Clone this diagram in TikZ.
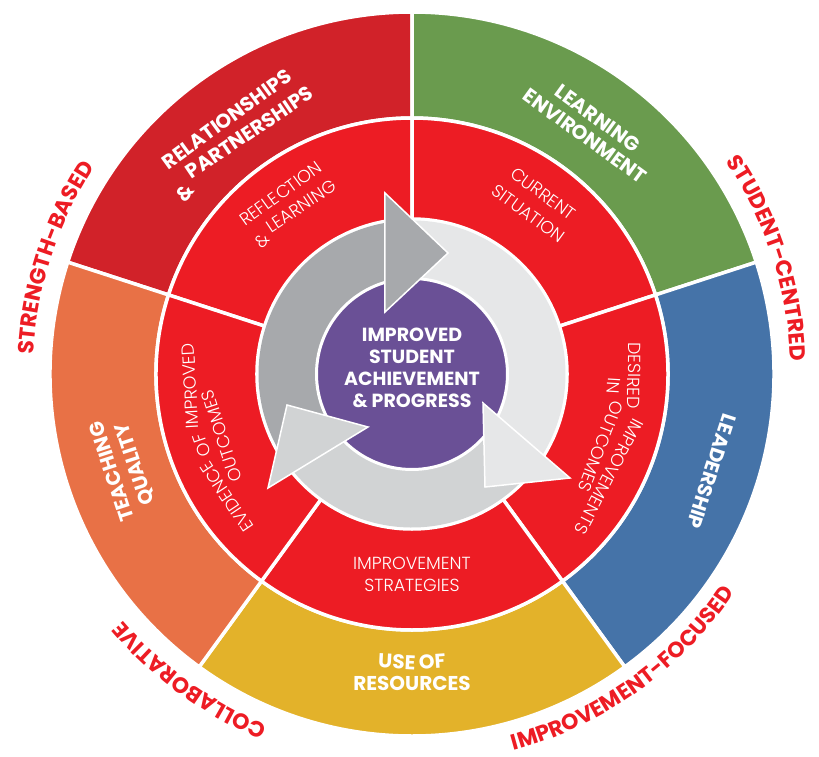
\documentclass[tikz,border=0pt]{standalone}
\usepackage{fontspec}
\setmainfont{Poppins}
\newfontfamily\lightfont{Poppins Light}
\definecolor{RelRed}{RGB}{209, 34, 41}
\definecolor{EnvGreen}{RGB}{106, 155, 78}
\definecolor{LeadBlue}{RGB}{69, 115, 168}
\definecolor{ResYellow}{RGB}{227, 178, 42}
\definecolor{TeachOrange}{RGB}{232, 113, 70}
\definecolor{CycleRed}{RGB}{237, 28, 36}
\definecolor{CorePurple}{RGB}{106, 80, 150}
\definecolor{DarkGrey}{RGB}{167, 169, 172}
\definecolor{MidGrey}{RGB}{209, 211, 212}
\definecolor{LightGrey}{RGB}{230, 231, 232}

\newcommand{\valuefont}{\bfseries\fontsize{22}{22}\selectfont}
\newcommand{\domainfont}{\bfseries\fontsize{20}{20}\selectfont}
\newcommand{\stagefont}{\lightfont\fontsize{17.5}{17.5}\selectfont}
\newcommand{\corefont}{\bfseries\fontsize{19}{22}\selectfont}

% ring piece: inner r, outer r, from angle, to angle, style
\newcommand{\ringpiece}[5]{\path[#5] (#3:#1) -- (#3:#2) arc[start angle=#3, end angle=#4, radius=#2] -- (#4:#1) arc[start angle=#4, end angle=#3, radius=#1] -- cycle;}

% text on a circle, one piece at a time (a letter, or a {word} in braces): [colour] radius of baseline,
% centre angle, sense (1 = anticlockwise, letters face in; -1 = clockwise, letters face out), font, text (~ for spaces)
\makeatletter
\newbox\arc@wholebox
\newbox\arc@piecebox
\newcommand{\arcword}[6][white]{%
  \begingroup
  \def\arc@col{#1}\def\arc@r{#2}\def\arc@c{#3}\def\arc@s{#4}\def\arc@f{#5}%
  \pgfinterruptpicture\global\setbox\arc@wholebox=\hbox{#5#6}\endpgfinterruptpicture
  \pgfmathsetmacro\arc@x{-0.5*\the\wd\arc@wholebox}%
  \arc@next#6\arc@end
  \endgroup}
\def\arc@stop{\arc@end}
\def\arc@next#1{%
  \def\arc@tmp{#1}%
  \ifx\arc@tmp\arc@stop\else
    \pgfinterruptpicture\global\setbox\arc@piecebox=\hbox{\arc@f#1}\endpgfinterruptpicture
    \pgfmathsetmacro\arc@w{\the\wd\arc@piecebox}%
    \pgfmathsetmacro\arc@a{\arc@c+\arc@s*deg((\arc@x+0.5*\arc@w)/\arc@r)}%
    \node[letter, text=\arc@col, font=\arc@f, rotate=\arc@a+\arc@s*90] at (\arc@a:\arc@r) {#1};
    \pgfmathsetmacro\arc@x{\arc@x+\arc@w}%
    \expandafter\arc@next
  \fi}
\makeatother

\begin{document}
\begin{tikzpicture}[
    x=1pt, y=1pt,
    piece/.style={fill=#1, draw=white, line width=3.5pt},
    band/.style={fill=#1},
    head/.style={fill=#1, draw=white, line width=1.5pt, line join=miter},
    core/.style={text=white, align=center, font=\corefont},
    letter/.style={anchor=base, inner sep=0pt, outer sep=0pt}
]
\useasboundingbox (-412,-382) rectangle (407,374);

% === OUTER DOMAINS ===
\ringpiece{256}{362}{90}{162}{piece=RelRed}
\ringpiece{256}{362}{18}{90}{piece=EnvGreen}
\ringpiece{256}{362}{-54}{18}{piece=LeadBlue}
\ringpiece{256}{362}{-126}{-54}{piece=ResYellow}
\ringpiece{256}{362}{162}{234}{piece=TeachOrange}

% === CYCLE STAGES ===
\foreach \a in {90, 18, -54, -126, 162}
    \ringpiece{155}{256}{\a}{\a+72}{piece=CycleRed};

% === ARROWS ===
\ringpiece{90}{153.5}{100}{-40}{band=LightGrey}
\ringpiece{90}{153.5}{-40}{-150}{band=MidGrey}
\ringpiece{90}{153.5}{210}{98}{band=DarkGrey}

\filldraw[fill=CorePurple, draw=white, line width=3pt] (0,0) circle[radius=95.5];

\path[head=DarkGrey] (-27,181) -- (36,121) -- (-27,62) -- cycle;
\path[head=LightGrey] (71,-29) -- (158,-104) -- (73,-113) -- cycle;
\path[head=MidGrey] (-125,-31) -- (-44,-53) -- (-144,-114) -- cycle;

\node[core] (core) at (0,6) {IMPROVED\\STUDENT\\ACHIEVEMENT\\\& PROGRESS};

% === STAGE LABELS ===
\arcword{217}{126}{-1}{\stagefont}{{REFLECTION}}
\arcword{195}{126}{-1}{\stagefont}{{\&}~{LEARNING}}
\arcword{217}{54}{-1}{\stagefont}{{CURRENT}}
\arcword{192}{54}{-1}{\stagefont}{{SITUATION}}
\arcword{216}{-18}{-1}{\stagefont}{{DESIRED}~{IMPROVEMENTS}}
\arcword{196}{-18}{-1}{\stagefont}{{IN}~{OUTCOMES}}
\arcword{216}{198}{-1}{\stagefont}{{EVIDENCE}~{OF}~{IMPROVED}}
\arcword{194}{198}{-1}{\stagefont}{{OUTCOMES}}
\arcword{195}{-90}{1}{\stagefont}{{IMPROVEMENT}}
\arcword{217}{-90}{1}{\stagefont}{{STRATEGIES}}

% === DOMAIN LABELS ===
\arcword{308}{126}{-1}{\domainfont}{{RELATIONSHIPS}}
\arcword{284}{126}{-1}{\domainfont}{{\&}~{PARTNERSHIPS}}
\arcword{309}{54}{-1}{\domainfont}{{LEARNING}}
\arcword{287}{54}{-1}{\domainfont}{{ENVIRONMENT}}
\arcword{308}{-18}{-1}{\domainfont}{{LEADERSHIP}}
\arcword{309}{198}{-1}{\domainfont}{{TEACHING}}
\arcword{285}{198}{-1}{\domainfont}{{QUALITY}}
\arcword{295}{-90}{1}{\domainfont}{{USE}~{OF}}
\arcword{316}{-90}{1}{\domainfont}{{RESOURCES}}

% === VALUES ===
\arcword[CycleRed]{379}{162}{-1}{\valuefont}{STRENGTH-BASED}
\arcword[CycleRed]{379}{18}{-1}{\valuefont}{STUDENT-CENTRED}
\arcword[CycleRed]{380}{-126}{-1}{\valuefont}{COLLABORATIVE}
\arcword[CycleRed]{390}{-54.5}{1}{\valuefont}{IMPROVEMENT-FOCUSED}

\end{tikzpicture}
\end{document}
